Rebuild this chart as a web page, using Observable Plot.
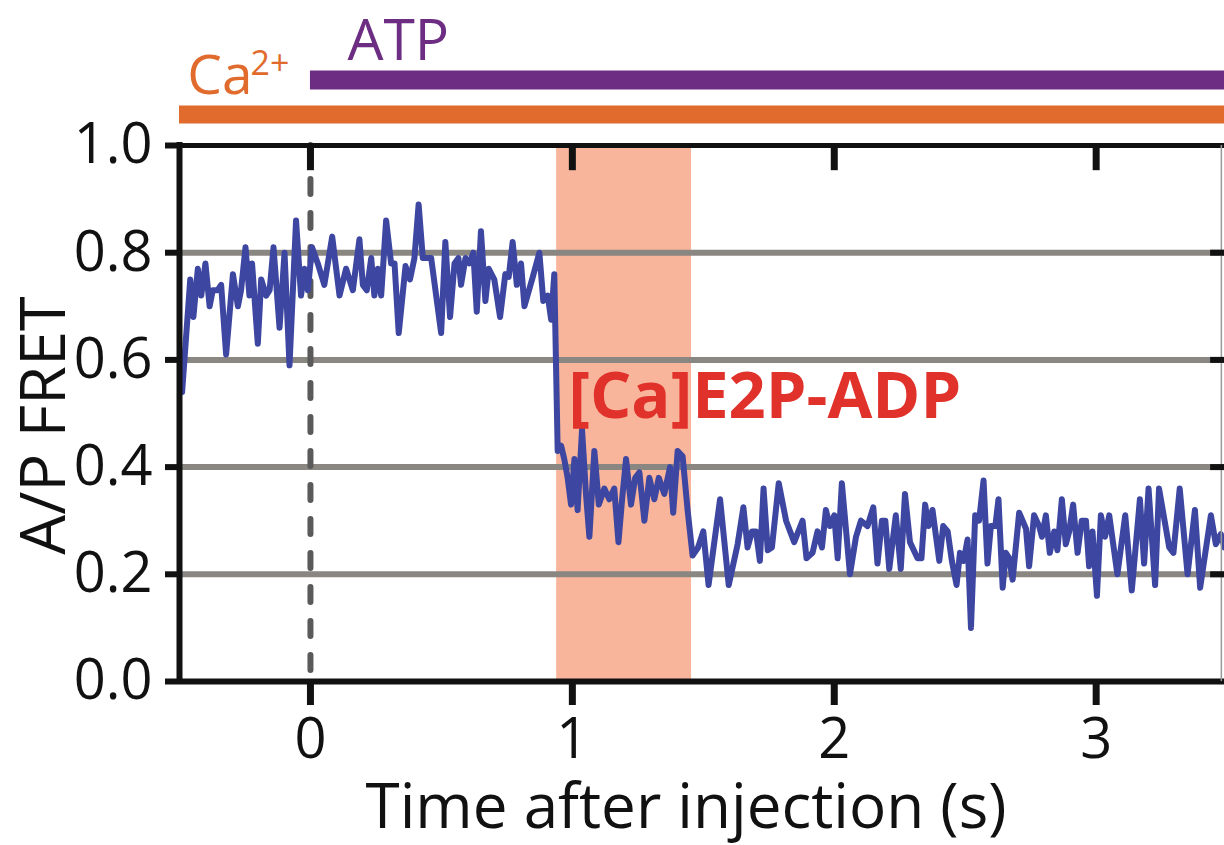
<!DOCTYPE html>
<html>
<head>
<meta charset="utf-8">
<script src="https://cdn.jsdelivr.net/npm/d3@7"></script>
<script src="https://cdn.jsdelivr.net/npm/@observablehq/plot@0.6"></script>
<style>
  html, body { margin: 0; padding: 0; background: white; overflow: hidden; }
  #chart { width: 1224px; height: 845px; }
</style>
</head>
<body>
<div id="chart"></div>
<script>
// ---- Data ----
const time = [
  -0.49, -0.459, -0.447, -0.430, -0.417, -0.401, -0.385, -0.373, -0.354, -0.341,
  -0.322, -0.296, -0.277, -0.265, -0.248, -0.233, -0.223, -0.201, -0.188, -0.169,
  -0.156, -0.141, -0.118, -0.099, -0.080, -0.055, -0.036, -0.023, -0.010, 0.006,
  0.028, 0.053, 0.083, 0.111, 0.136, 0.162, 0.187, 0.200, 0.215, 0.232,
  0.244, 0.257, 0.270, 0.289, 0.308, 0.321, 0.337, 0.363, 0.380, 0.397,
  0.413, 0.429, 0.461, 0.499, 0.515, 0.533, 0.550, 0.565, 0.575, 0.592,
  0.607, 0.622, 0.635, 0.651, 0.668, 0.681, 0.702, 0.724, 0.744, 0.757,
  0.772, 0.788, 0.804, 0.817, 0.849, 0.874, 0.889, 0.906, 0.919, 0.931,
  0.944, 0.957, 0.969, 0.982, 0.995, 1.008, 1.020, 1.037, 1.052, 1.065,
  1.084, 1.101, 1.122, 1.141, 1.160, 1.176, 1.190, 1.205, 1.224, 1.240,
  1.256, 1.275, 1.294, 1.313, 1.330, 1.351, 1.373, 1.385, 1.402, 1.421,
  1.440, 1.459, 1.480, 1.500, 1.520, 1.564, 1.597, 1.631, 1.653, 1.669,
  1.686, 1.701, 1.716, 1.730, 1.746, 1.762, 1.788, 1.816, 1.847, 1.879,
  1.894, 1.917, 1.936, 1.953, 1.968, 1.983, 2.000, 2.013, 2.029, 2.060,
  2.083, 2.102, 2.127, 2.149, 2.165, 2.182, 2.195, 2.210, 2.235, 2.254,
  2.270, 2.289, 2.318, 2.333, 2.347, 2.360, 2.375, 2.401, 2.416, 2.433,
  2.449, 2.467, 2.480, 2.494, 2.509, 2.522, 2.538, 2.553, 2.570, 2.585,
  2.598, 2.615, 2.627, 2.643, 2.655, 2.668, 2.681, 2.706, 2.732, 2.744,
  2.763, 2.782, 2.793, 2.808, 2.823, 2.840, 2.852, 2.869, 2.884, 2.897,
  2.912, 2.929, 2.945, 2.961, 2.973, 2.986, 3.003, 3.018, 3.034, 3.050,
  3.081, 3.111, 3.136, 3.167, 3.183, 3.200, 3.225, 3.240, 3.279, 3.295,
  3.319, 3.349, 3.377, 3.397, 3.438, 3.457, 3.476, 3.49
];
const fret = [
  0.54, 0.75, 0.68, 0.77, 0.72, 0.78, 0.70, 0.73, 0.73, 0.74,
  0.61, 0.76, 0.70, 0.73, 0.81, 0.72, 0.78, 0.63, 0.75, 0.72,
  0.73, 0.81, 0.66, 0.80, 0.59, 0.86, 0.72, 0.77, 0.73, 0.81,
  0.78, 0.74, 0.83, 0.72, 0.77, 0.73, 0.825, 0.74, 0.73, 0.79,
  0.72, 0.77, 0.72, 0.86, 0.78, 0.78, 0.65, 0.775, 0.75, 0.79,
  0.89, 0.79, 0.79, 0.65, 0.82, 0.68, 0.78, 0.79, 0.74, 0.79,
  0.78, 0.80, 0.69, 0.84, 0.71, 0.77, 0.75, 0.68, 0.76, 0.755,
  0.82, 0.74, 0.78, 0.70, 0.755, 0.80, 0.71, 0.72, 0.675, 0.76,
  0.43, 0.44, 0.415, 0.38, 0.33, 0.415, 0.32, 0.47, 0.35, 0.27,
  0.43, 0.33, 0.36, 0.34, 0.36, 0.26, 0.34, 0.415, 0.33, 0.38,
  0.39, 0.30, 0.38, 0.34, 0.38, 0.35, 0.40, 0.315, 0.43, 0.42,
  0.32, 0.235, 0.25, 0.28, 0.18, 0.34, 0.18, 0.256, 0.325, 0.25,
  0.28, 0.28, 0.225, 0.36, 0.245, 0.25, 0.37, 0.30, 0.26, 0.30,
  0.23, 0.24, 0.28, 0.25, 0.32, 0.29, 0.31, 0.23, 0.37, 0.20,
  0.27, 0.30, 0.29, 0.325, 0.22, 0.30, 0.30, 0.21, 0.31, 0.21,
  0.35, 0.26, 0.23, 0.23, 0.33, 0.29, 0.32, 0.225, 0.29, 0.28,
  0.225, 0.18, 0.24, 0.225, 0.265, 0.10, 0.31, 0.30, 0.375, 0.22,
  0.29, 0.29, 0.34, 0.175, 0.24, 0.23, 0.19, 0.315, 0.285, 0.215,
  0.31, 0.29, 0.27, 0.31, 0.24, 0.28, 0.245, 0.34, 0.256, 0.28,
  0.33, 0.24, 0.30, 0.30, 0.215, 0.28, 0.16, 0.31, 0.27, 0.31,
  0.20, 0.31, 0.17, 0.34, 0.22, 0.36, 0.18, 0.36, 0.25, 0.24,
  0.36, 0.20, 0.32, 0.175, 0.31, 0.256, 0.275, 0.25
];
const xTicks = [0, 1, 2, 3];
const yTicks = [0, 0.2, 0.4, 0.6, 0.8, 1.0];
const gridValues = [0.2, 0.4, 0.6, 0.8];
const stateInterval = [0.94, 1.455];   // [Ca]E2P-ADP window (s)
const caStart = -0.5;                  // Ca2+ present from
const atpStart = 0;                    // ATP injected at
const xEnd = 3.49;
const stateLabel = "[Ca]E2P-ADP";
const xLabel = "Time after injection (s)";
const yLabel = "A/P FRET";

const trace = time.map((t, i) => ({t, v: fret[i]}));

const chart = Plot.plot({
  width: 1224,
  height: 845,
  marginLeft: 179,
  marginRight: 0,
  marginTop: 145,
  marginBottom: 164,
  style: {fontFamily: "'Open Sans', sans-serif", background: "white", color: "black", overflow: "visible"},
  x: {domain: [-0.5, xEnd]},
  y: {domain: [0, 1]},
  marks: [
    // highlighted state window
    Plot.rect([stateInterval], {x1: d => d[0], x2: d => d[1], fill: "#f8b59b"}),
    // horizontal grid
    Plot.ruleY(gridValues, {stroke: "#8a8682", strokeWidth: 6}),
    // injection time
    Plot.ruleX([atpStart], {stroke: "#5a5a5a", strokeWidth: 6, strokeDasharray: "15,19", strokeLinecap: "round"}),
    // FRET trace
    Plot.line(trace, {x: "t", y: "v", stroke: "#3d46a0", strokeWidth: 6, strokeLinejoin: "round"}),
    // frame
    Plot.ruleY([1], {stroke: "#111", strokeWidth: 5}),
    Plot.ruleY([0], {stroke: "#111", strokeWidth: 6}),
    Plot.ruleX([-0.5], {stroke: "#111", strokeWidth: 6, strokeLinecap: "square"}),
    Plot.ruleX([3.478], {stroke: "#999", strokeWidth: 1.5}),
    // inward ticks on top and right
    Plot.ruleX(xTicks, {y1: 1, y2: 0.953, stroke: "#111", strokeWidth: 7}),
    Plot.ruleY(gridValues, {x1: 3.437, x2: xEnd, stroke: "#111", strokeWidth: 6}),
    // axes
    Plot.axisX(xTicks, {tickSize: 24, tickPadding: 13, strokeWidth: 7, fontSize: 56, label: null, tickFormat: d => String(d), fill: "#111", stroke: "#111"}),
    Plot.axisY(yTicks, {tickSize: 14, tickPadding: 13, strokeWidth: 6, fontSize: 56, label: null, tickFormat: d => d.toFixed(1), fill: "#111", stroke: "#111"}),
    Plot.text([xLabel], {text: d => d, frameAnchor: "bottom", lineAnchor: "bottom", textAnchor: "middle", dx: -16, dy: 146, fontSize: 62, fill: "#111"}),
    Plot.text([yLabel], {text: d => d, frameAnchor: "left", rotate: -90, textAnchor: "middle", lineAnchor: "middle", dx: -135, dy: 12, fontSize: 63, fill: "#111"}),
    // treatment bars
    Plot.ruleY([caStart], {x1: d => d, x2: xEnd, y: () => 1.0578, stroke: "#e06b2c", strokeWidth: 18}),
    Plot.ruleY([atpStart], {x1: d => d, x2: xEnd, y: () => 1.1222, stroke: "#6c2d83", strokeWidth: 19}),
    Plot.text(["Ca"], {text: d => d, x: () => -0.47, y: () => 1.097, textAnchor: "start", lineAnchor: "bottom", fontSize: 55, fill: "#e06b2c"}),
    Plot.text(["2+"], {text: d => d, x: () => -0.229, y: () => 1.1306, textAnchor: "start", lineAnchor: "bottom", fontSize: 34, fill: "#e06b2c"}),
    Plot.text(["ATP"], {text: d => d, x: () => 0.141, y: () => 1.1586, textAnchor: "start", lineAnchor: "bottom", fontSize: 57, fill: "#6c2d83"}),
    // state label
    Plot.text([stateLabel], {text: d => d, x: () => 0.985, y: () => 0.4925, textAnchor: "start", lineAnchor: "bottom", fontSize: 65, fontWeight: "bold", fill: "#e0312b"})
  ]
});
document.getElementById("chart").appendChild(chart);
</script>
</body>
</html>
